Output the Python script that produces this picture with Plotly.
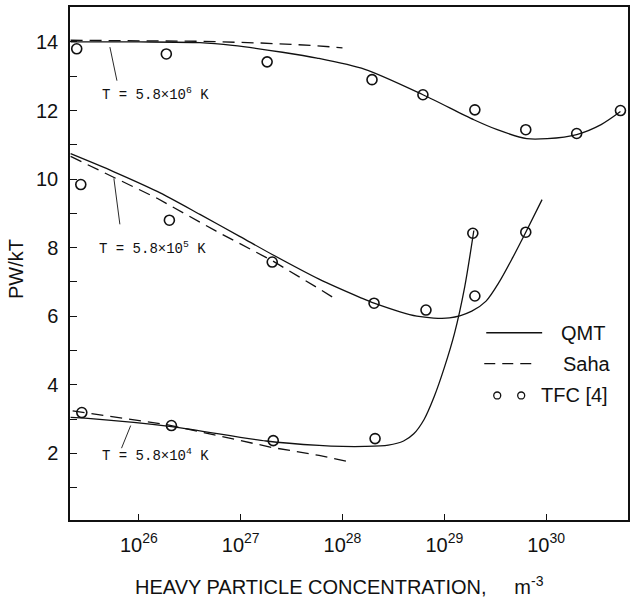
import plotly.graph_objects as go

# ---- data (x given as log10 of concentration, m^-3) ----
qmt6_logx = [25.33, 26.0, 26.6, 26.92, 27.41, 27.75, 28.22, 28.79, 29.29, 29.52, 29.81, 30.01, 30.30, 30.54, 30.73]
qmt6_y    = [14.0, 14.0, 13.98, 13.9, 13.7, 13.53, 13.2, 12.46, 11.73, 11.44, 11.18, 11.18, 11.3, 11.59, 11.97]
saha6_logx = [25.33, 26.0, 26.6, 27.2, 27.7, 28.0]
saha6_y    = [14.05, 14.04, 14.02, 13.97, 13.9, 13.83]
tfc6_logx = [25.39, 26.27, 27.26, 28.29, 28.79, 29.30, 29.80, 30.30, 30.73]
tfc6_y    = [13.8, 13.65, 13.42, 12.9, 12.46, 12.02, 11.44, 11.33, 12.0]

qmt5_logx = [25.33, 25.75, 26.18, 26.6, 26.99, 27.31, 27.77, 28.17, 28.31, 28.73, 29.05, 29.27, 29.41, 29.54, 29.67, 29.80, 29.96]
qmt5_y    = [10.74, 10.22, 9.64, 8.97, 8.33, 7.8, 7.08, 6.55, 6.38, 6.0, 5.95, 6.15, 6.44, 7.0, 7.7, 8.45, 9.4]
saha5_logx = [25.33, 26.18, 26.76, 27.31, 27.77, 27.95]
saha5_y    = [10.66, 9.44, 8.48, 7.62, 6.8, 6.47]
tfc5_logx = [25.43, 26.30, 27.31, 28.31, 28.82, 29.30, 29.80]
tfc5_y    = [9.84, 8.8, 7.58, 6.38, 6.18, 6.59, 8.45]

qmt4_logx = [25.33, 25.5, 26.32, 27.25, 27.77, 28.0, 28.22, 28.45, 28.6, 28.7, 28.8, 28.9, 29.0, 29.1, 29.2, 29.29]
qmt4_y    = [3.05, 3.02, 2.78, 2.36, 2.23, 2.2, 2.2, 2.24, 2.36, 2.57, 2.98, 3.65, 4.5, 5.5, 6.85, 8.5]
saha4_logx = [25.35, 26.27, 27.31, 27.77, 28.05]
saha4_y    = [3.24, 2.84, 2.17, 1.94, 1.76]
tfc4_logx = [25.44, 26.32, 27.32, 28.32, 29.28]
tfc4_y    = [3.19, 2.81, 2.37, 2.43, 8.42]

temp_labels = ["T = 5.8×10<sup>6</sup> K", "T = 5.8×10<sup>5</sup> K", "T = 5.8×10<sup>4</sup> K"]
label_logx = [25.62, 25.59, 25.62]
label_y = [12.49, 8.0, 1.94]
leader_logx = [[25.716, 25.785], [25.755, 25.814], [25.92, 25.83]]
leader_y = [[13.85, 12.87], [10.02, 8.68], [2.81, 2.15]]

xtick_exp = [26, 27, 28, 29, 30]
ytick_vals = [2, 4, 6, 8, 10, 12, 14]

BLACK = "#111111"
p10 = lambda arr: [10.0 ** v for v in arr]

fig = go.Figure()
solid = dict(color=BLACK, width=1.3, shape="spline", smoothing=0.8)
dashed = dict(color=BLACK, width=1.3, dash="12px,7px")
for lx, y in [(qmt6_logx, qmt6_y), (qmt5_logx, qmt5_y), (qmt4_logx, qmt4_y)]:
    fig.add_trace(go.Scatter(x=p10(lx), y=y, mode="lines", line=solid, showlegend=False))
for lx, y in [(saha6_logx, saha6_y), (saha5_logx, saha5_y), (saha4_logx, saha4_y)]:
    fig.add_trace(go.Scatter(x=p10(lx), y=y, mode="lines", line=dashed, showlegend=False))
for lx, y in [(tfc6_logx, tfc6_y), (tfc5_logx, tfc5_y), (tfc4_logx, tfc4_y)]:
    fig.add_trace(go.Scatter(x=p10(lx), y=y, mode="markers",
                             marker=dict(symbol="circle-open", size=10, color=BLACK, line=dict(width=1.6)),
                             showlegend=False))
for lx, y in zip(leader_logx, leader_y):
    fig.add_trace(go.Scatter(x=p10(lx), y=y, mode="lines", line=dict(color=BLACK, width=0.9), showlegend=False))

for txt, lx, y in zip(temp_labels, label_logx, label_y):
    fig.add_annotation(x=lx, y=y, xref="x", yref="y", text=txt, showarrow=False, xanchor="left",
                       font=dict(family="Liberation Mono, Courier New, monospace", size=14, color=BLACK))

# legend (paper coords; plot area 70..629 px wide, 5..520 px tall)
W, H, L, B = 559.0, 515.0, 70.0, 520.0
px = lambda v: (v - L) / W
py = lambda v: (B - v) / H
fig.add_shape(type="line", xref="paper", yref="paper", x0=px(487), x1=px(543), y0=py(332), y1=py(332),
              line=dict(color=BLACK, width=1.3))
fig.add_shape(type="line", xref="paper", yref="paper", x0=px(485), x1=px(539), y0=py(363), y1=py(363),
              line=dict(color=BLACK, width=1.3, dash="11px,7px"))
for cx in (498, 522):
    fig.add_shape(type="circle", xref="paper", yref="paper", x0=px(cx - 3.5), x1=px(cx + 3.5),
                  y0=py(395 + 3.5), y1=py(395 - 3.5), line=dict(color=BLACK, width=1.3))
legfont = dict(family="Liberation Sans, Arial, sans-serif", size=20, color=BLACK)
for txt, xx, yy in [("QMT", 560, 332), ("Saha", 562, 363), ("TFC [4]", 540, 395)]:
    fig.add_annotation(x=px(xx), y=py(yy), xref="paper", yref="paper", text=txt, showarrow=False,
                       xanchor="left", yanchor="middle", font=legfont)

# axis titles
fig.add_annotation(x=px(340), y=py(586), xref="paper", yref="paper",
                   text="HEAVY PARTICLE CONCENTRATION,&nbsp;&nbsp;&nbsp;&nbsp;&nbsp;m<sup>-3</sup>",
                   showarrow=False, xanchor="center", yanchor="middle",
                   font=dict(family="Liberation Sans, Arial, sans-serif", size=20, color=BLACK))
fig.add_annotation(x=px(16), y=py(268), xref="paper", yref="paper", text="PW/kT", textangle=-90,
                   showarrow=False, xanchor="center", yanchor="middle",
                   font=dict(family="Liberation Sans, Arial, sans-serif", size=20, color=BLACK))

fig.update_layout(
    width=635, height=606,
    margin=dict(l=70, r=6, t=5, b=86),
    paper_bgcolor="white", plot_bgcolor="white",
    font=dict(family="Liberation Sans, Arial, sans-serif", size=20, color=BLACK),
    showlegend=False,
)
fig.update_xaxes(type="log", range=[25.324, 30.804],
                 tickvals=[10.0 ** e for e in xtick_exp],
                 ticktext=[f"10<sup>{e}</sup>" for e in xtick_exp],
                 ticks="inside", ticklen=6, tickwidth=1.2, tickcolor=BLACK,
                 showline=True, linecolor=BLACK, linewidth=1.5, mirror=True,
                 showgrid=False, zeroline=False, ticklabelstandoff=6)
fig.update_yaxes(range=[0.055, 15.02], tickvals=ytick_vals,
                 ticks="inside", ticklen=7, tickwidth=1.2, tickcolor=BLACK,
                 minor=dict(dtick=1, ticks="inside", ticklen=7, tickcolor=BLACK, tickwidth=1.2, showgrid=False),
                 showline=True, linecolor=BLACK, linewidth=1.5, mirror=True,
                 showgrid=False, zeroline=False, ticklabelstandoff=6)

fig.write_html("out.html")
